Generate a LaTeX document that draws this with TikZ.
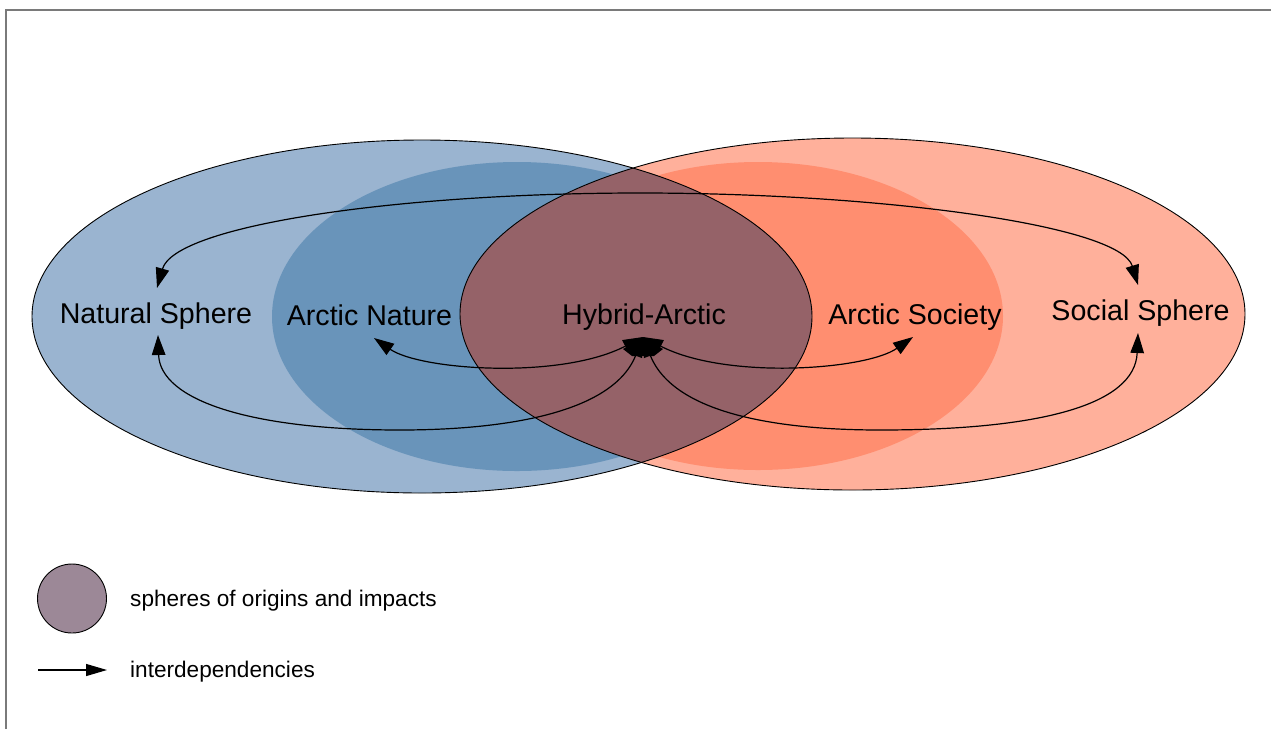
\documentclass[tikz,border=0pt]{standalone}
\usepackage{fontspec}
\setmainfont{Liberation Sans}
\usetikzlibrary{arrows.meta}

\definecolor{natouter}{HTML}{9AB4D0}
\definecolor{natinner}{HTML}{6994BA}
\definecolor{socouter}{HTML}{FFB09B}
\definecolor{socinner}{HTML}{FF8E70}
\definecolor{hybridfill}{HTML}{956268}
\definecolor{legendfill}{HTML}{9C8897}
\definecolor{framegray}{HTML}{7A7A7A}

\begin{document}
\begin{tikzpicture}[x=1pt,y=-1pt,
  lbl/.style={font=\fontsize{28.6}{34}\selectfont, inner sep=0pt, anchor=base},
  legendtext/.style={font=\fontsize{22.6}{27}\selectfont, inner sep=0pt, anchor=base west},
  link/.style={line width=1.2pt,
    {Triangle[length=20pt,width=13.5pt]}-{Triangle[length=20pt,width=13.5pt]}},
  oneway/.style={line width=1.2pt, -{Triangle[length=21pt,width=12pt]}},
  rim/.style={draw=black, line width=0.9pt}]
\useasboundingbox (0,0) rectangle (1271,729);

% page frame
\draw[framegray, line width=2pt] (6,729) -- (6,10) -- (1271,10);

% the two spheres and their Arctic cores
\fill[natouter] (422,316.5) ellipse [x radius=390pt, y radius=176.5pt];
\fill[socouter] (852.5,314) ellipse [x radius=392.5pt, y radius=176pt];
\fill[natinner] (517,316.5) ellipse [x radius=245pt, y radius=154.5pt];
\fill[socinner] (758,316) ellipse [x radius=245pt, y radius=154pt];

% overlap of both spheres
\begin{scope}
  \clip (422,316.5) ellipse [x radius=390pt, y radius=176.5pt];
  \fill[hybridfill] (852.5,314) ellipse [x radius=392.5pt, y radius=176pt];
\end{scope}

\draw[rim] (422,316.5) ellipse [x radius=390pt, y radius=176.5pt];
\draw[rim] (852.5,314) ellipse [x radius=392.5pt, y radius=176pt];

% labels
\node[lbl] (natural) at (156,323) {Natural Sphere};
\node[lbl] (arcnat)  at (369.5,325) {Arctic Nature};
\node[lbl] (hybrid)  at (644,324) {Hybrid-Arctic};
\node[lbl] (arcsoc)  at (915,324) {Arctic Society};
\node[lbl] (social)  at (1140.5,320) {Social Sphere};

% arrow end points
\coordinate (hub) at (643,337);
\coordinate (natTop) at (157,288);
\coordinate (socTop) at (1138,285);
\coordinate (natBot) at (158,335);
\coordinate (socBot) at (1138,333);
\coordinate (anEnd) at (374,338);
\coordinate (asEnd) at (913,337);

% hub where the interdependencies meet
\fill (hub) -- (663,349) -- (654,356) -- (632,356) -- (623,349) -- cycle;

% interdependencies
\draw[link] (natTop) .. controls (175,225) and (400,193) .. (640,193)
                     .. controls (880,193) and (1120,225) .. (socTop);
\draw[link] (hub) .. controls (610,420) and (480,430) .. (400,430)
                  .. controls (250,430) and (160,400) .. (natBot);
\draw[link] (hub) .. controls (676,420) and (800,430) .. (880,430)
                  .. controls (1040,430) and (1135,405) .. (socBot);
\draw[link] (hub) .. controls (560,380) and (420,370) .. (anEnd);
\draw[link] (hub) .. controls (726,380) and (866,370) .. (asEnd);

% legend
\draw[fill=legendfill, line width=0.9pt] (72,598.5) circle [radius=34.5pt] coordinate (legcirc);
\node[legendtext] (legsph) at (130,606) {spheres of origins and impacts};
\coordinate (legA) at (38,670);
\coordinate (legB) at (107,670);
\draw[oneway] (legA) -- (legB);
\node[legendtext] (legint) at (130,677) {interdependencies};
\end{tikzpicture}
\end{document}
